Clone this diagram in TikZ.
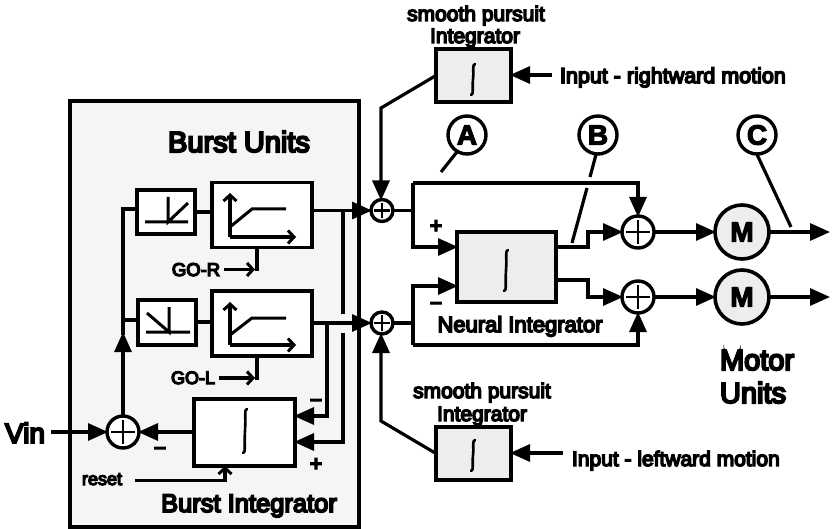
\documentclass[tikz,border=0pt]{standalone}
\usepackage{fontspec}
\setmainfont{Liberation Sans}[FakeBold=7]
\newfontfamily\bfam{Liberation Sans Bold}[FakeBold=4]
\usetikzlibrary{arrows.meta}
\newcommand{\fs}[1]{\fontsize{#1}{#1}\selectfont}
\tikzset{
  wire/.style={line width=3.2pt,line join=miter},
  fat/.style={wire,-{Triangle[length=20pt,width=17pt]},shorten >=-1pt},
  barb/.style={wire,-{Straight Barb[length=6pt,width=13pt,line width=3pt]}},
  icon/.style={line width=3pt},
  blk/.style={draw,line width=3.4pt,fill=white,inner sep=0,outer sep=0},
  grayblk/.style={blk,fill=black!7},
  sumj/.style={draw,circle,line width=3.4pt,fill=white,inner sep=0,outer sep=0,minimum size=2*#1 pt,
    path picture={\draw[line width=2.6pt] (path picture bounding box.center) ++(-0.72*#1,0) -- ++(1.44*#1,0);
                  \draw[line width=2.6pt] (path picture bounding box.center) ++(0,-0.72*#1) -- ++(0,1.44*#1);}},
  motor/.style={draw,circle,line width=3.6pt,fill=black!7,inner sep=0,outer sep=0,minimum size=54pt,font=\bfam\fs{28}},
  tag/.style={draw,circle,line width=3.4pt,fill=white,inner sep=0,outer sep=0,minimum size=38pt,font=\bfam\fs{28}},
  lbl/.style={inner sep=0,outer sep=0,anchor=base},
  lblw/.style={inner sep=0,outer sep=0,anchor=base west},
}
\newcommand{\integ}[3]{% x, ytop, ybottom
  \draw[line width=2.6pt,line cap=round] ({#1+2},#2) .. controls ({#1-1},#2) and ({#1+1},{#2+8}) .. (#1,{0.5*#2+0.5*#3}) .. controls ({#1-1},{#3-8}) and ({#1+1},#3) .. ({#1-2},#3);}
\begin{document}
\begin{tikzpicture}[x=1pt,y=-1pt]
\useasboundingbox (0,0) rectangle (834,529);
\fill[white] (0,0) rectangle (834,529);

% burst panel
\node[draw,line width=3.6pt,fill=black!4,inner sep=0,outer sep=0,minimum width=289pt,minimum height=426pt] (panel) at (214.5,314) {};

% blocks
\node[blk,minimum width=58pt,minimum height=44pt] (rectR) at (166,212) {};
\node[blk,minimum width=58pt,minimum height=45pt] (rectL) at (167,322.5) {};
\node[blk,minimum width=100pt,minimum height=65pt] (satR) at (262,215) {};
\node[blk,minimum width=100pt,minimum height=65pt] (satL) at (262,323.5) {};
\node[blk,minimum width=101pt,minimum height=67pt] (bint) at (244.5,432.5) {};
\node[grayblk,minimum width=99pt,minimum height=70pt] (nint) at (506.5,267) {};
\node[grayblk,minimum width=75pt,minimum height=53pt] (spT) at (473.5,75.5) {};
\node[grayblk,minimum width=75pt,minimum height=53pt] (spB) at (473.5,453.5) {};

% sums
\node[sumj=16] (sumV) at (123,432) {};
\node[sumj=11] (jR) at (382,210.5) {};
\node[sumj=11] (jL) at (382,323) {};
\node[sumj=16] (sumA) at (638,232) {};
\node[sumj=16] (sumB) at (638,297) {};
\node[motor] (mA) at (742,232) {M};
\node[motor] (mB) at (742,297) {M};
\node[tag] (tA) at (467,135) {A};
\node[tag] (tB) at (598,135) {B};
\node[tag] (tC) at (757,135) {C};

% free ends
\coordinate (vinS) at (51,432);
\coordinate (outA) at (829,232);
\coordinate (outB) at (829,297);
\coordinate (inR) at (552,75);
\coordinate (inL) at (563,453);
\coordinate (rs) at (135,480.5);
\coordinate (gr) at (224,269.5);
\coordinate (gl) at (219,378);

% block icons
\draw[icon] (145,222) -- (188,222) (168,197) -- (168,222) -- (188,203);
\draw[icon] (146,332) -- (190,332) (169,307) -- (169,332) -- (147,313);
\draw[barb] (230,237) -- (230,193);
\draw[barb] (230,237) -- (296,237);
\draw[icon] (230,227) -- (252,209) -- (286,209);
\draw[barb] (230,345) -- (230,302);
\draw[barb] (230,345) -- (296,345);
\draw[icon] (230,335) -- (252,318) -- (286,318);
\integ{245}{409}{453}
\integ{506}{250}{291}
\integ{473}{64}{95}
\integ{473}{440}{471}

% burst wiring
\draw[fat] (vinS) -- (sumV.west);
\draw[fat] (bint.west |- sumV) -- (sumV.east);
\draw[fat] (sumV.north) -- (123,333);
\draw[wire] (123,335) -- (123,209) -- (rectR.west |- 0,209);
\draw[wire] (123,320) -- (rectL.west |- 0,320);
\draw[wire] (rectR.east |- 0,212) -- (satR.west |- 0,212);
\draw[wire] (rectL.east |- 0,322) -- (satL.west |- 0,322);
\draw[fat] (satR.east |- jR) -- (jR.west);
\draw[fat] (satL.east |- jL) -- (jL.west);
\draw[wire] (343,210.5) -- (343,314);
\draw[fat] (343,333) -- (343,442) -- (bint.east |- 0,442);
\draw[fat] (327,323) -- (327,416) -- (bint.east |- 0,416);
\draw[barb] (gr) -- (255,269.5);
\draw[wire] (satR.south -| 257,0) -- (257,271);
\draw[barb] (gl) -- (255,378);
\draw[wire] (satL.south -| 257,0) -- (257,379.6);
\draw[barb] (rs) -- (225,480.5) -- (bint.south -| 225,0);

% pursuit
\draw[fat] (inR) -- (spT.east |- inR);
\draw[fat] (inL) -- (spB.east |- inL);
\draw[fat] (spT.west) -- (381,108) -- (jR.north -| 381,0);
\draw[fat] (spB.west) -- (381,421) -- (jL.south -| 381,0);

% neural integrator wiring
\draw[wire] (jR.east) -- (413,210.5);
\draw[fat] (413,183) -| (sumA.north);
\draw[fat] (413,183) -- (413,247) -- (nint.west |- 0,247);
\draw[wire] (jL.east) -- (413,323);
\draw[fat] (413,345) -- (413,286) -- (nint.west |- 0,286);
\draw[fat] (413,345) -| (sumB.south);
\draw[fat] (nint.east |- 0,247) -- (588,247) -- (588,232) -- (sumA.west);
\draw[fat] (nint.east |- 0,280) -- (588,280) -- (588,297) -- (sumB.west);
\draw[fat] (sumA.east) -- (mA.west);
\draw[fat] (sumB.east) -- (mB.west);
\draw[fat] (mA.east) -- (outA);
\draw[fat] (mB.east) -- (outB);

% tag leaders
\coordinate (leadA) at (441,172);
\coordinate (leadC) at (791,227);
\coordinate (leadB1) at (590,177);
\coordinate (leadB2) at (587,188);
\coordinate (leadB3) at (572,243);
\draw[wire] (tA) ++(-10.5,17.5) -- (leadA);
\draw[wire] (tB) ++(-2,19.5) -- (leadB1);
\draw[wire] (leadB2) -- (leadB3);
\draw[wire] (tC) ++(0,19.5) -- (leadC);

% text
\node[lbl,font=\fs{29}] (t1) at (239,152) {Burst Units};
\node[lbl,font=\fs{18.5}] (t2) at (196,276) {GO-R};
\node[lbl,font=\fs{18}] (t3) at (193,384) {GO-L};
\node[lbl,font=\fs{18}] (t4) at (102,485) {reset};
\node[lbl,font=\fs{25.5}] (t5) at (249,512) {Burst Integrator};
\node[lbl,font=\fs{22}] (t6) at (520,332) {Neural Integrator};
\node[lbl,font=\fs{21}] (t7) at (476,21) {smooth pursuit};
\node[lbl,font=\fs{21}] (t8) at (475,43) {Integrator};
\node[lbl,font=\fs{21}] (t9) at (482,398) {smooth pursuit};
\node[lbl,font=\fs{21}] (t10) at (482,421) {Integrator};
\node[lblw,font=\fs{21.5}] (t11) at (560,83) {Input - rightward motion};
\node[lblw,font=\fs{21}] (t12) at (572,466) {Input - leftward motion};
\node[lblw,font=\fs{29}] (t13) at (720,370) {Motor};
\node[lblw,font=\fs{29}] (t14) at (720,403) {Units};
\node[lbl,font=\fs{28}] (t15) at (25,443) {Vin};
\node[lbl,font=\bfam\fs{22}] (p1) at (436,233) {+};
\node[lbl,font=\bfam\fs{22}] (m1) at (436,309) {–};
\node[lbl,font=\bfam\fs{22}] (p2) at (316,471) {+};
\node[lbl,font=\bfam\fs{22}] (m2) at (316,406) {–};
\node[lbl,font=\bfam\fs{22}] (m3) at (160,454) {–};
\end{tikzpicture}
\end{document}
